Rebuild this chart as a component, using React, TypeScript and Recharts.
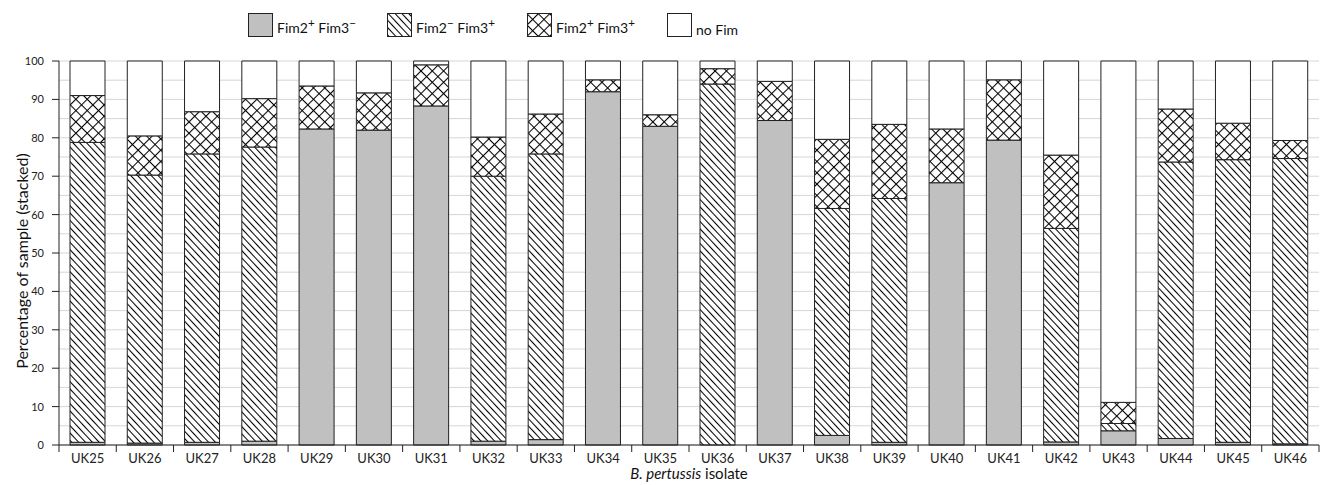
import { BarChart, Bar, XAxis, YAxis, CartesianGrid, Label } from "recharts";

const isolates = [
  "UK25", "UK26", "UK27", "UK28", "UK29", "UK30", "UK31", "UK32", "UK33", "UK34", "UK35",
  "UK36", "UK37", "UK38", "UK39", "UK40", "UK41", "UK42", "UK43", "UK44", "UK45", "UK46",
];

// segment heights (percent), stacked bottom to top
const fim2Only = [0.7, 0.5, 0.7, 1.0, 82.3, 82.0, 88.3, 1.0, 1.4, 92.0, 83.0, 0, 84.5, 2.5, 0.7, 68.3, 79.4, 0.8, 3.7, 1.7, 0.7, 0.3];
const fim3Only = [78.1, 69.8, 75.1, 76.6, 0, 0, 0, 69.0, 74.4, 0, 0, 94.0, 0, 59.1, 63.5, 0, 0, 55.6, 1.9, 72.0, 73.6, 74.3];
const fimBoth = [12.2, 10.2, 11.0, 12.6, 11.2, 9.7, 10.7, 10.2, 10.4, 3.1, 3.0, 4.0, 10.2, 18.0, 19.3, 14.0, 15.7, 19.1, 5.5, 13.8, 9.5, 4.7];
const noFim = [9.0, 19.5, 13.2, 9.8, 6.5, 8.3, 1.0, 19.8, 13.8, 4.9, 14.0, 2.0, 5.3, 20.4, 16.5, 17.7, 4.9, 24.5, 88.9, 12.5, 16.2, 20.7];

const yTicks = [0, 10, 20, 30, 40, 50, 60, 70, 80, 90, 100];
const gridValues = [0, 5, 10, 15, 20, 25, 30, 35, 40, 45, 50, 55, 60, 65, 70, 75, 80, 85, 90, 95, 100];

const data = isolates.map((name, i) => ({
  name,
  fim2Only: fim2Only[i],
  fim3Only: fim3Only[i],
  fimBoth: fimBoth[i],
  noFim: noFim[i],
}));

const FONT = "Lato, 'Open Sans', sans-serif";
const OUTLINE = "#222";

function Patterns({ prefix }: { prefix: string }) {
  return (
    <defs>
      <pattern id={`${prefix}-hatch`} width="5" height="5" patternUnits="userSpaceOnUse" patternTransform="rotate(-43)">
        <rect width="5" height="5" fill="#fff" />
        <line x1="0.5" y1="-1" x2="0.5" y2="6" stroke="#000" strokeWidth="1.1" />
      </pattern>
      <pattern id={`${prefix}-cross`} width="8" height="8" patternUnits="userSpaceOnUse" patternTransform="rotate(45)">
        <rect width="8" height="8" fill="#fff" />
        <line x1="0.5" y1="-1" x2="0.5" y2="9" stroke="#000" strokeWidth="1.1" />
        <line x1="-1" y1="0.5" x2="9" y2="0.5" stroke="#000" strokeWidth="1.1" />
      </pattern>
    </defs>
  );
}

function IsolateTick(props: any) {
  const { x, y, payload, index, visibleTicksCount } = props;
  const half = payload.offset || 28.6;
  const last = index === visibleTicksCount - 1;
  return (
    <g>
      <line x1={x - half} y1={y} x2={x - half} y2={y + 7} stroke={OUTLINE} />
      {last && <line x1={x + half} y1={y} x2={x + half} y2={y + 7} stroke={OUTLINE} />}
      <text x={x} y={y + 18} textAnchor="middle" fontSize={13} fill="#222" fontFamily={FONT}>
        {payload.value}
      </text>
    </g>
  );
}

const legendItems = [
  { fill: "#c0c0c0", left: 240, label: <>Fim2<sup>+</sup> Fim3<sup>−</sup></> },
  { fill: "url(#lg-hatch)", left: 379, label: <>Fim2<sup>−</sup> Fim3<sup>+</sup></> },
  { fill: "url(#lg-cross)", left: 519, label: <>Fim2<sup>+</sup> Fim3<sup>+</sup></> },
  { fill: "#fff", left: 659, label: <span style={{ position: "relative", top: 5 }}>no Fim</span> },
];

export default function App() {
  return (
    <div style={{ position: "relative", width: 1325, height: 477, fontFamily: FONT }}>
      <svg width="0" height="0" style={{ position: "absolute" }}>
        <Patterns prefix="lg" />
      </svg>
      {legendItems.map((item, i) => (
        <div
          key={i}
          style={{ position: "absolute", left: item.left, top: 5, display: "flex", alignItems: "center", fontSize: 14, color: "#111", lineHeight: "14px" }}
        >
          <svg width={25} height={24} style={{ marginRight: 4 }}>
            <rect x={0.5} y={0.5} width={24} height={23} fill={item.fill} stroke={OUTLINE} />
          </svg>
          <span style={{ whiteSpace: "nowrap" }}>{item.label}</span>
        </div>
      ))}
      <BarChart
        width={1325}
        height={477}
        data={data}
        margin={{ top: 53, right: 14, left: 0, bottom: 10 }}
        barSize={35}
        style={{ position: "absolute", left: 0, top: 0 }}
      >
        <Patterns prefix="bar" />
        <CartesianGrid
          vertical={false}
          stroke="#d6d6d6"
          horizontalCoordinatesGenerator={({ offset }: any) =>
            gridValues.map((v) => offset.top + offset.height * (1 - v / 100))
          }
        />
        <XAxis
          dataKey="name"
          tickLine={false}
          tickSize={0}
          tickMargin={0}
          height={30}
          interval={0}
          stroke={OUTLINE}
          tick={<IsolateTick />}
        >
          <Label
            content={({ viewBox }: any) => (
              <text x={viewBox.x + viewBox.width / 2} y={viewBox.y + 34} textAnchor="middle" fontSize={15} fill="#111" fontFamily={FONT}>
                <tspan fontStyle="italic">B. pertussis</tspan> isolate
              </text>
            )}
          />
        </XAxis>
        <YAxis
          width={51}
          domain={[0, 100]}
          ticks={yTicks}
          interval={0}
          tickSize={7}
          tickMargin={8}
          stroke={OUTLINE}
          tick={{ fontSize: 11, fill: "#222", fontFamily: FONT }}
        >
          <Label
            content={({ viewBox }: any) => {
              const cx = 13;
              const cy = viewBox.y + viewBox.height / 2 + 8;
              return (
                <text x={cx} y={cy} transform={`rotate(-90 ${cx} ${cy})`} textAnchor="middle" dominantBaseline="central" fontSize={16} fill="#111" fontFamily={FONT}>
                  Percentage of sample (stacked)
                </text>
              );
            }}
          />
        </YAxis>
        <Bar dataKey="fim2Only" stackId="a" fill="#c0c0c0" stroke={OUTLINE} strokeWidth={1} isAnimationActive={false} />
        <Bar dataKey="fim3Only" stackId="a" fill="url(#bar-hatch)" stroke={OUTLINE} strokeWidth={1} isAnimationActive={false} />
        <Bar dataKey="fimBoth" stackId="a" fill="url(#bar-cross)" stroke={OUTLINE} strokeWidth={1} isAnimationActive={false} />
        <Bar dataKey="noFim" stackId="a" fill="#fff" stroke={OUTLINE} strokeWidth={1} isAnimationActive={false} />
      </BarChart>
    </div>
  );
}
